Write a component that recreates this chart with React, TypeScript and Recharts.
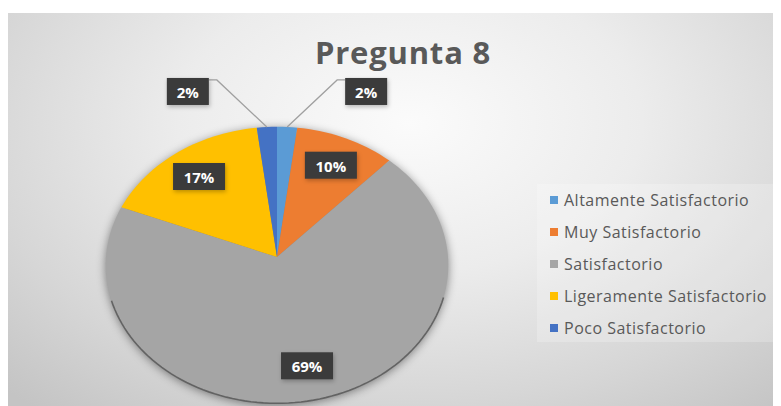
import React from "react";
import { PieChart, Pie, Cell, Legend } from "recharts";

const categories = [
  "Altamente Satisfactorio",
  "Muy Satisfactorio",
  "Satisfactorio",
  "Ligeramente Satisfactorio",
  "Poco Satisfactorio",
];
const values = [2, 10, 69, 17, 2];
const colors = ["#5B9BD5", "#ED7D31", "#A5A5A5", "#FFC000", "#4472C4"];

const data = categories.map((name, i) => ({ name, value: values[i] }));

// perspective of the tilted pie
const SQUASH = 0.806;
const TILT_K = 0.058;

const proj = (cx: number, cy: number, R: number, angle: number, r: number) => {
  const t = (angle * Math.PI) / 180;
  const u = r * Math.cos(t);
  const v = -r * Math.sin(t);
  const w = 1 / (1 - (TILT_K * v) / R);
  return [cx + u * w, cy + v * SQUASH * w];
};

const arc = (cx: number, cy: number, R: number, a0: number, a1: number) => {
  const n = Math.max(2, Math.ceil(Math.abs(a1 - a0) / 2));
  const pts: number[][] = [];
  for (let i = 0; i <= n; i++) {
    pts.push(proj(cx, cy, R, a0 + ((a1 - a0) * i) / n, R));
  }
  return pts;
};

const renderSlice = (props: any) => {
  const { cx, cy, outerRadius, startAngle, endAngle, index } = props;
  const pts = arc(cx, cy, outerRadius, startAngle, endAngle);
  const d =
    `M${cx},${cy} ` + pts.map((p) => `L${p[0].toFixed(2)},${p[1].toFixed(2)}`).join(" ") + " Z";
  // darker rim on the lower side
  const lower = pts.filter((p) => p[1] > cy + 40);
  const rim = lower.length > 1 ? "M" + lower.map((p) => `${p[0]},${p[1]}`).join(" L") : "";
  let shadow = null;
  if (index === 0) {
    const full = arc(cx, cy, outerRadius, 0, 360);
    shadow = (
      <path
        d={"M" + full.map((p) => `${p[0]},${p[1] + 2}`).join(" L") + " Z"}
        fill="rgba(0,0,0,0.45)"
        style={{ filter: "blur(5px)" }}
      />
    );
  }
  return (
    <g key={`slice-${index}`}>
      {shadow}
      <path d={d} fill={colors[index]} />
      {rim && <path d={rim} fill="none" stroke="#585858" strokeWidth={1.6} strokeOpacity={0.85} />}
    </g>
  );
};

const Tag = ({ x, y, w, text }: { x: number; y: number; w: number; text: string }) => (
  <g>
    <rect x={x + 1} y={y + 2} width={w} height={27} fill="rgba(0,0,0,0.25)" style={{ filter: "blur(2px)" }} />
    <rect x={x} y={y} width={w} height={27} fill="#3B3B3B" />
    <text
      x={x + w / 2}
      y={y + 14}
      fill="#FFFFFF"
      fontSize={15}
      fontWeight={700}
      fontFamily="Open Sans, sans-serif"
      textAnchor="middle"
      dominantBaseline="central"
    >
      {text}
    </text>
  </g>
);

const renderTag = (props: any) => {
  const { cx, cy, outerRadius, midAngle, percent, index } = props;
  const text = `${Math.round(percent * 100)}%`;
  const w = text.length > 2 ? 52 : 42;
  if (percent >= 0.05) {
    const [px, py] = proj(cx, cy, outerRadius, midAngle, outerRadius * 0.77);
    return <Tag key={`tag-${index}`} x={px - w / 2} y={py - 13} w={w} text={text} />;
  }
  const [rx, ry] = proj(cx, cy, outerRadius, midAngle, outerRadius);
  const dir = Math.cos((midAngle * Math.PI) / 180) < 0 ? -1 : 1;
  const ex = rx + dir * 50;
  const ey = ry - 47;
  const bx = dir < 0 ? ex - 8 - w : ex + 8;
  return (
    <g key={`tag-${index}`}>
      <path d={`M${rx},${ry} L${ex},${ey} L${ex + dir * 8},${ey}`} fill="none" stroke="#A0A0A0" strokeWidth={1.3} />
      <Tag x={bx} y={ey - 2} w={w} text={text} />
    </g>
  );
};

const LegendBox = () => (
  <div
    style={{
      background: "rgba(255,255,255,0.22)",
      padding: "0 0 0 13px",
      height: 158,
      boxSizing: "border-box",
    }}
  >
    {categories.map((name, i) => (
      <div
        key={name}
        style={{
          display: "flex",
          alignItems: "center",
          height: 32,
          fontFamily: "Open Sans, sans-serif",
          fontSize: 16,
          letterSpacing: 0.5,
          color: "#595959",
          whiteSpace: "nowrap",
        }}
      >
        <span style={{ display: "inline-block", width: 8, height: 8, background: colors[i], marginRight: 6 }} />
        {name}
      </div>
    ))}
  </div>
);

export default function App() {
  return (
    <div
      style={{
        marginTop: 5,
        width: 773,
        height: 393,
        position: "relative",
        background:
          "radial-gradient(ellipse 75% 95% at 52% 28%, #fbfbfb 0%, #ececec 40%, #d6d6d6 75%, #c4c4c4 100%)",
      }}
    >
      <div
        style={{
          position: "absolute",
          left: 0,
          width: 790,
          top: 21,
          textAlign: "center",
          fontFamily: "Open Sans, sans-serif",
          fontWeight: 700,
          fontSize: 31,
          letterSpacing: 0.8,
          color: "#595959",
          lineHeight: "36px",
        }}
      >
        Pregunta 8
      </div>
      <PieChart width={773} height={393} style={{ position: "absolute", left: 0, top: 0 }}>
        <Pie
          data={data}
          dataKey="value"
          nameKey="name"
          cx={264}
          cy={239}
          outerRadius={171}
          startAngle={90}
          endAngle={-270}
          stroke="none"
          label={renderSlice}
          labelLine={false}
          legendType="none"
          isAnimationActive={false}
        >
          {data.map((d, i) => (
            <Cell key={`s-${i}`} fill="transparent" />
          ))}
        </Pie>
        <Pie
          data={data}
          dataKey="value"
          nameKey="name"
          cx={264}
          cy={239}
          outerRadius={171}
          startAngle={90}
          endAngle={-270}
          stroke="none"
          label={renderTag}
          labelLine={false}
          isAnimationActive={false}
        >
          {data.map((d, i) => (
            <Cell key={`t-${i}`} fill={colors[i]} fillOpacity={0} />
          ))}
        </Pie>
        <Legend
          content={<LegendBox />}
          wrapperStyle={{ position: "absolute", left: 529, top: 171, width: 244, height: 158 }}
        />
      </PieChart>
    </div>
  );
}
